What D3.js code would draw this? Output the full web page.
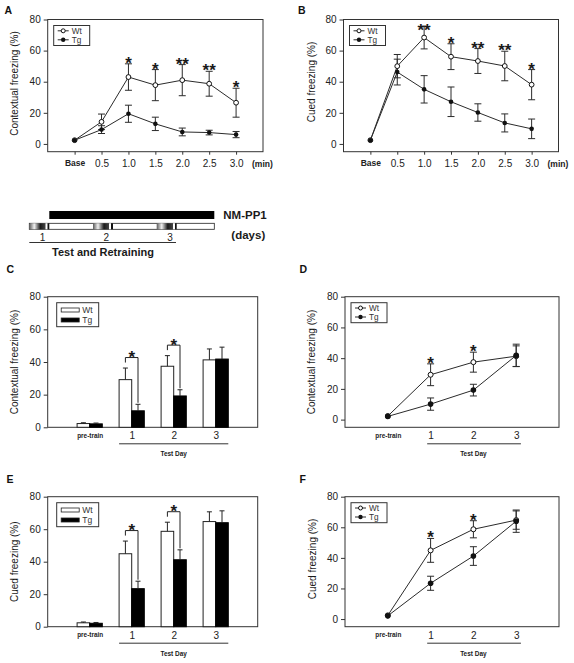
<!DOCTYPE html>
<html><head><meta charset="utf-8">
<script src="https://cdn.jsdelivr.net/npm/d3@7"></script>
<style>
body{margin:0;background:#fff;}
svg{display:block;}
</style></head><body>
<svg id="chart" width="574" height="663"></svg>
<script>
// ---------------- DATA ----------------
const minuteLabels = ["Base","0.5","1.0","1.5","2.0","2.5","3.0"];
const contextWt    = [2.4,14.2,43.0,37.8,41.0,38.7,26.5];
const contextWtErr = [0.5,5.0,8.5,10.0,10.0,8.0,9.3];
const contextTg    = [2.4,9.2,19.4,12.9,7.7,7.3,6.0];
const contextTgErr = [0.5,2.5,5.5,4.3,2.5,1.5,2.0];
const contextStars = ["","","*","*","**","**","*"];

const cuedWt    = [2.4,50.0,68.4,56.1,53.3,50.1,38.1];
const cuedWtErr = [0.5,7.5,7.3,8.3,8.0,9.5,9.7];
const cuedTg    = [2.4,46.2,35.1,27.1,20.2,13.5,9.7];
const cuedTgErr = [0.5,8.3,8.8,9.5,5.6,5.8,6.3];
const cuedStars = ["","","**","*","**","**","*"];

const dayLabels = ["pre-train","1","2","3"];
const dayContextWt    = [2.3,29.2,37.4,41.3];
const dayContextWtErr = [0.5,7.1,6.5,6.7];
const dayContextTg    = [2.1,10.1,19.2,41.8];
const dayContextTgErr = [0.5,4.0,3.8,7.3];
const dayContextStars = ["","*","*",""];

const dayCuedWt    = [2.4,44.9,58.7,64.7];
const dayCuedWtErr = [0.5,7.8,5.6,6.0];
const dayCuedTg    = [2.1,23.4,41.2,64.0];
const dayCuedTgErr = [0.5,4.6,6.1,7.3];
const dayCuedStars = ["","*","*",""];

const yTicks = [0,20,40,60,80];
const timelineDays = [1,2,3];
const seriesNames = ["Wt","Tg"];

// ---------------- DRAWING ----------------
const FONT = '"Liberation Sans", Arial, Helvetica, sans-serif';
const INK = "#2b2b2b";
const svg = d3.select("#chart").attr("font-family", FONT);

function makePanel(cfg){
  const x = d3.scaleLinear().domain(cfg.xDomain).range([cfg.left, cfg.right]);
  const y = d3.scaleLinear().domain([cfg.yMin, 80]).range([cfg.bottom, cfg.top]);
  const g = svg.append("g");
  g.append("rect").attr("x",cfg.left).attr("y",cfg.top)
    .attr("width",cfg.right-cfg.left).attr("height",cfg.bottom-cfg.top)
    .attr("fill","none").attr("stroke","#333").attr("stroke-width",1);
  const ya = g.append("g").attr("transform",`translate(${cfg.left},0)`)
    .call(d3.axisLeft(y).tickValues(yTicks).tickSize(4).tickPadding(3));
  ya.attr("font-family",FONT).attr("font-size",10);
  ya.select(".domain").remove();
  ya.selectAll("line").attr("stroke","#333");
  ya.selectAll("text").attr("fill","#222");
  g.append("text").attr("transform",`translate(${cfg.ylabX},${cfg.ylabY}) rotate(-90)`)
    .attr("text-anchor","middle").attr("dominant-baseline","central")
    .attr("font-size",10).attr("fill","#1a1a1a").text(cfg.ylabel);
  g.append("text").attr("x",cfg.letterX).attr("y",cfg.letterY)
    .attr("font-size",10.5).attr("font-weight","bold").attr("fill","#111").text(cfg.letter);
  return {x,y,g};
}

function xAxis(g, x, cfg, labels, tickSize, pad){
  const xa = g.append("g").attr("transform",`translate(0,${cfg.bottom})`)
    .call(d3.axisBottom(x).tickValues(d3.range(labels.length)).tickSize(tickSize).tickPadding(pad)
      .tickFormat(i=>labels[i]));
  xa.attr("font-family",FONT).attr("font-size",10);
  xa.select(".domain").remove();
  xa.selectAll("line").attr("stroke","#333");
  xa.selectAll("text").attr("fill","#222").each(function(d){
    const t = d3.select(this);
    if (labels[d]==="Base") t.attr("font-weight","bold").attr("font-size",8.5);
    if (labels[d]==="pre-train") t.attr("font-weight","bold").attr("font-size",7.5)
       .attr("textLength",26).attr("lengthAdjust","spacingAndGlyphs");
  });
}

function starText(g, xc, yc, s){
  g.append("text").attr("x",xc).attr("y",yc+10).attr("text-anchor","middle")
    .attr("font-size",17).attr("font-weight","bold").attr("fill","#1a1a1a").text(s);
}

function testDay(g, x, cfg){
  g.append("line").attr("x1",x(cfg.under[0])).attr("x2",x(cfg.under[1]))
    .attr("y1",cfg.bottom+16.5).attr("y2",cfg.bottom+16.5).attr("stroke","#333");
  g.append("text").attr("x",x(2)).attr("y",cfg.bottom+29).attr("text-anchor","middle")
    .attr("font-size",8).attr("font-weight","bold").attr("fill","#1a1a1a")
    .attr("textLength",26.5).attr("lengthAdjust","spacingAndGlyphs").text("Test Day");
}

function linePanel(cfg, labels, wt, wtErr, tg, tgErr, stars){
  const {x,y,g} = makePanel(cfg);
  if (cfg.kind==="min") xAxis(g,x,cfg,labels,3,5); else xAxis(g,x,cfg,labels,0,5);
  const line = d3.line().x((d,i)=>x(i)).y(d=>y(d));
  [wt,tg].forEach(s=>g.append("path").datum(s).attr("d",line)
    .attr("fill","none").attr("stroke",INK).attr("stroke-width",1));
  const cap = 3.5;
  [[wt,wtErr],[tg,tgErr]].forEach(([v,e])=>{
    v.forEach((d,i)=>{
      if (e[i] < 1) return;
      const xi = x(i), y0 = y(d-e[i]), y1 = y(d+e[i]);
      g.append("line").attr("x1",xi).attr("x2",xi).attr("y1",y0).attr("y2",y1).attr("stroke",INK);
      [y0,y1].forEach(yy=>g.append("line").attr("x1",xi-cap).attr("x2",xi+cap)
        .attr("y1",yy).attr("y2",yy).attr("stroke",INK));
    });
  });
  const rW = cfg.kind==="min" ? 2.4 : 2.5, rT = cfg.kind==="min" ? 2.3 : 2.8;
  wt.forEach((d,i)=>g.append("circle").attr("cx",x(i)).attr("cy",y(d)).attr("r",rW)
    .attr("fill","#fff").attr("stroke","#111").attr("stroke-width",1));
  tg.forEach((d,i)=>g.append("circle").attr("cx",x(i)).attr("cy",y(d)).attr("r",rT)
    .attr("fill","#111"));
  stars.forEach((s,i)=>{
    if (!s) return;
    const top = y(Math.max(wt[i]+wtErr[i], tg[i]+tgErr[i]));
    const yc = Math.max(top-5, cfg.top+6);
    starText(g, x(i), yc, s);
  });
  // legend
  const bx = cfg.left+6, by = cfg.top+6;
  g.append("rect").attr("x",bx).attr("y",by).attr("width",36).attr("height",20)
    .attr("fill","#fff").attr("stroke","#333");
  seriesNames.forEach((n,k)=>{
    const yy = by+5.3+k*9;
    g.append("line").attr("x1",bx+4).attr("x2",bx+15).attr("y1",yy).attr("y2",yy).attr("stroke",INK);
    if (k===0) g.append("circle").attr("cx",bx+9.5).attr("cy",yy).attr("r",2)
      .attr("fill","#fff").attr("stroke","#111");
    else g.append("circle").attr("cx",bx+9.5).attr("cy",yy).attr("r",2.2).attr("fill","#111");
    g.append("text").attr("x",bx+18).attr("y",yy+3).attr("font-size",8.2).attr("fill","#333").text(n);
  });
  if (cfg.kind==="min"){
    g.append("text").attr("x",cfg.right-11).attr("y",cfg.bottom+15).attr("font-size",8.5)
      .attr("font-weight","bold").attr("fill","#1a1a1a").text("(min)");
  } else testDay(g,x,cfg);
}

function barPanel(cfg, labels, wt, wtErr, tg, tgErr, stars){
  const {x,y,g} = makePanel(cfg);
  xAxis(g,x,cfg,labels,0,5);
  const bw = (x(1)-x(0))*0.3;
  const cap = 2.5;
  wt.forEach((d,i)=>{
    g.append("rect").attr("x",x(i)-bw).attr("y",y(d)).attr("width",bw).attr("height",y(0)-y(d))
      .attr("fill","#fff").attr("stroke","#222").attr("stroke-width",1);
  });
  tg.forEach((d,i)=>{
    g.append("rect").attr("x",x(i)).attr("y",y(d)).attr("width",bw).attr("height",y(0)-y(d))
      .attr("fill","#000").attr("stroke","#000").attr("stroke-width",1);
  });
  [[wt,wtErr,-bw/2],[tg,tgErr,bw/2]].forEach(([v,e,off])=>{
    v.forEach((d,i)=>{
      const xi = x(i)+off, y0 = y(d), y1 = y(d+e[i]);
      g.append("line").attr("x1",xi).attr("x2",xi).attr("y1",y0).attr("y2",y1).attr("stroke","#222");
      g.append("line").attr("x1",xi-cap).attr("x2",xi+cap).attr("y1",y1).attr("y2",y1).attr("stroke","#222");
    });
  });
  stars.forEach((s,i)=>{
    if (!s) return;
    const xl = x(i)-bw/2, xr = x(i)+bw/2;
    const by = y(wt[i]+wtErr[i]) - 10.5;
    const yr = y(tg[i]+tgErr[i]) - 1.5;
    g.append("path").attr("d",`M${xl},${by+5}V${by}H${xr}V${yr}`)
      .attr("fill","none").attr("stroke","#222");
    starText(g, x(i), by-4.5, s);
  });
  // legend
  const bx = cfg.left+9, byy = cfg.top+6;
  g.append("rect").attr("x",bx).attr("y",byy).attr("width",42).attr("height",24)
    .attr("fill","#fff").attr("stroke","#333");
  seriesNames.forEach((n,k)=>{
    const yy = byy+7.3+k*10;
    g.append("rect").attr("x",bx+4.5).attr("y",yy-2).attr("width",18).attr("height",4)
      .attr("fill",k===0?"#fff":"#000").attr("stroke","#222").attr("stroke-width",0.8);
    g.append("text").attr("x",bx+25.5).attr("y",yy+3.1).attr("font-size",8.5).attr("fill","#333").text(n);
  });
  testDay(g,x,cfg);
}

// ---------------- PANELS ----------------
linePanel({kind:"min",left:47.7,right:263,top:19.5,bottom:151.7,yMin:-5,xDomain:[-1,7],
  ylabel:"Contextual freezing (%)",ylabX:14.3,ylabY:83.5,letter:"A",letterX:4.5,letterY:14},
  minuteLabels, contextWt, contextWtErr, contextTg, contextTgErr, contextStars);
linePanel({kind:"min",left:343.5,right:558.5,top:19.5,bottom:151.7,yMin:-5,xDomain:[-1,7],
  ylabel:"Cued freezing (%)",ylabX:311.7,ylabY:82,letter:"B",letterX:298,letterY:14},
  minuteLabels, cuedWt, cuedWtErr, cuedTg, cuedTgErr, cuedStars);
barPanel({left:47.7,right:257.7,top:296.7,bottom:427.3,yMin:0,xDomain:[-1,4],under:[0.7,3.3],
  ylabel:"Contextual freezing (%)",ylabX:14.3,ylabY:362,letter:"C",letterX:6.5,letterY:273},
  dayLabels, dayContextWt, dayContextWtErr, dayContextTg, dayContextTgErr, dayContextStars);
linePanel({kind:"day",left:345,right:559,top:296.7,bottom:427.3,yMin:-5,xDomain:[-1,4],under:[0.92,3.11],
  ylabel:"Contextual freezing (%)",ylabX:311.7,ylabY:362,letter:"D",letterX:299.5,letterY:273},
  dayLabels, dayContextWt, dayContextWtErr, dayContextTg, dayContextTgErr, dayContextStars);
barPanel({left:47.7,right:257.7,top:496.7,bottom:626.7,yMin:0,xDomain:[-1,4],under:[0.7,3.3],
  ylabel:"Cued freezing (%)",ylabX:14.3,ylabY:561.7,letter:"E",letterX:6.5,letterY:483},
  dayLabels, dayCuedWt, dayCuedWtErr, dayCuedTg, dayCuedTgErr, dayCuedStars);
linePanel({kind:"day",left:345,right:559,top:496.7,bottom:626.7,yMin:-5,xDomain:[-1,4],under:[0.92,3.11],
  ylabel:"Cued freezing (%)",ylabX:312.7,ylabY:559,letter:"F",letterX:299.5,letterY:483},
  dayLabels, dayCuedWt, dayCuedWtErr, dayCuedTg, dayCuedTgErr, dayCuedStars);

// ---------------- TIMELINE ----------------
const defs = svg.append("defs");
const grad = defs.append("linearGradient").attr("id","dayGrad").attr("x1","0").attr("x2","1").attr("y1","0").attr("y2","0");
[[0,"#5a5a5a"],[0.25,"#f0f0f0"],[0.55,"#1a1a1a"],[0.8,"#444"],[0.82,"#fff"],[0.9,"#fff"],[0.92,"#111"],[1,"#111"]]
  .forEach(([o,c])=>grad.append("stop").attr("offset",o).attr("stop-color",c));

const tl = d3.scaleLinear().domain([1,3]).range([29.3,156.7]);
const patchW = 20, tlEnd = 214.3;
svg.append("rect").attr("x",tl(1)+patchW).attr("y",211).attr("width",tlEnd-tl(1)-patchW).attr("height",8).attr("fill","#000");
svg.append("rect").attr("x",tl(1)).attr("y",223.3).attr("width",tlEnd-tl(1)).attr("height",6)
  .attr("fill","#fff").attr("stroke","#222").attr("stroke-width",0.8);
timelineDays.forEach(d=>{
  svg.append("rect").attr("x",tl(d)).attr("y",223.3).attr("width",patchW).attr("height",6).attr("fill","url(#dayGrad)");
  svg.append("text").attr("x",tl(d)+13.3).attr("y",241).attr("text-anchor","middle")
    .attr("font-size",10).attr("fill","#222").text(d);
});
svg.append("line").attr("x1",tl(1)).attr("x2",176).attr("y1",242.5).attr("y2",242.5).attr("stroke","#333");
svg.append("text").attr("x",103).attr("y",256.3).attr("text-anchor","middle").attr("font-size",11)
  .attr("font-weight","bold").attr("fill","#1a1a1a").text("Test and Retraining");
svg.append("text").attr("x",223.3).attr("y",219).attr("font-size",11.5)
  .attr("font-weight","bold").attr("fill","#1a1a1a").text("NM-PP1");
svg.append("text").attr("x",248.3).attr("y",238.5).attr("text-anchor","middle").attr("font-size",11.5)
  .attr("font-weight","bold").attr("fill","#1a1a1a").text("(days)");
</script>
</body></html>
